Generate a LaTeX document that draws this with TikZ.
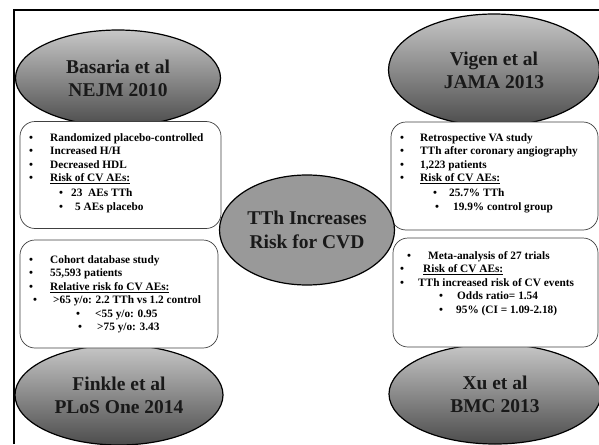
\documentclass[tikz,border=0pt]{standalone}
\usepackage{fontspec}
\setmainfont{Liberation Serif}
\usetikzlibrary{shapes.geometric,positioning}

% one bulleted line: bullet at #1, text at #2 (pt from the left edge)
\newcommand{\bul}[3]{\hspace*{#1pt}\makebox[\dimexpr#2pt-#1pt\relax][l]{\textbullet}#3}
% heavier underline
\newcommand{\uline}[1]{\setbox0\hbox{#1}\rlap{\rule[-2.6pt]{\wd0}{1.1pt}}\box0}

\begin{document}
\begin{tikzpicture}[x=1pt,y=-1pt,
  study/.style={ellipse,draw=black,line width=1.2pt,inner sep=0pt,top color=black!22,bottom color=black!70,text=black!90,align=center,font=\fontsize{19.5}{23}\selectfont\bfseries},
  hub/.style={ellipse,draw=black,line width=1.2pt,inner sep=0pt,fill=black!40,text=black!90,align=center,font=\fontsize{19.5}{24}\selectfont\bfseries},
  notebox/.style={draw=black!75,line width=0.7pt,fill=white,rounded corners=15pt,inner sep=0pt},
  notes/.style={anchor=north west,inner sep=0pt,align=left,font=\fontsize{11.3}{13.5}\selectfont\bfseries}]
  \useasboundingbox (0,0) rectangle (599,444);
  \draw[line width=2pt] (14,444) -- (14,10) -- (599,10);

  \node[study,minimum width=205pt,minimum height=96pt] (basaria) at (118,78) {Basaria et al\\NEJM 2010};
  \node[study,minimum width=211pt,minimum height=112pt] (vigen) at (494,70) {Vigen et al\\JAMA 2013};
  \node[study,minimum width=208pt,minimum height=100pt] (finkle) at (119,395) {Finkle et al\\PLoS One 2014};
  \node[study,minimum width=212pt,minimum height=100pt] (xu) at (495,394) {Xu et al\\BMC 2013};

  \node[notebox,minimum width=201pt,minimum height=107pt] (basaria-box) at (120.5,175) {};
  \node[notebox,minimum width=198pt,minimum height=108pt] (finkle-box) at (119,294) {};
  \node[notebox,minimum width=207pt,minimum height=108pt] (vigen-box) at (494.5,176) {};
  \node[notebox,minimum width=205pt,minimum height=109pt] (xu-box) at (495.5,292.5) {};

  \node[hub,minimum width=175pt,minimum height=110pt] (tth) at (307,230) {TTh Increases\\Risk for CVD};

  \node[notes] (basaria-notes) at (20,133) {\bul{9}{30}{Randomized placebo-controlled}\\
    \bul{9}{30}{Increased H/H}\\
    \bul{9}{30}{Decreased HDL}\\
    \bul{9}{30}{\uline{Risk of CV AEs:}}\\[1pt]
    \bul{39}{51}{23\ \ AEs TTh}\\[1pt]
    \bul{39}{55}{5 AEs placebo}};
  \node[notes] (finkle-notes) at (20,255) {\bul{9}{30}{Cohort database study}\\
    \bul{9}{30}{55,593 patients}\\
    \bul{9}{30}{\uline{Relative risk fo CV AEs:}}\\
    \bul{13}{33}{>65 y/o: 2.2 TTh vs 1.2 control}\\
    \bul{56}{75}{<55 y/o: 0.95}\\
    \bul{58}{77}{>75 y/o: 3.43}};
  \node[notes] (vigen-notes) at (391,133) {\bul{9}{29}{Retrospective VA study}\\
    \bul{9}{29}{TTh after coronary angiography}\\
    \bul{9}{29}{1,223 patients}\\
    \bul{9}{29}{\uline{Risk of CV AEs:}}\\[1pt]
    \bul{42}{58}{25.7\% TTh}\\[1pt]
    \bul{44}{62}{19.9\% control group}};
  \node[notes] (xu-notes) at (391,251) {\bul{16}{37}{Meta-analysis of 27 trials}\\
    \bul{9}{32}{\uline{Risk of CV AEs:}}\\
    \bul{9}{27}{TTh increased risk of CV events}\\
    \bul{48}{66}{Odds ratio= 1.54}\\
    \bul{48}{65}{95\% (CI = 1.09-2.18)}};
\end{tikzpicture}
\end{document}
